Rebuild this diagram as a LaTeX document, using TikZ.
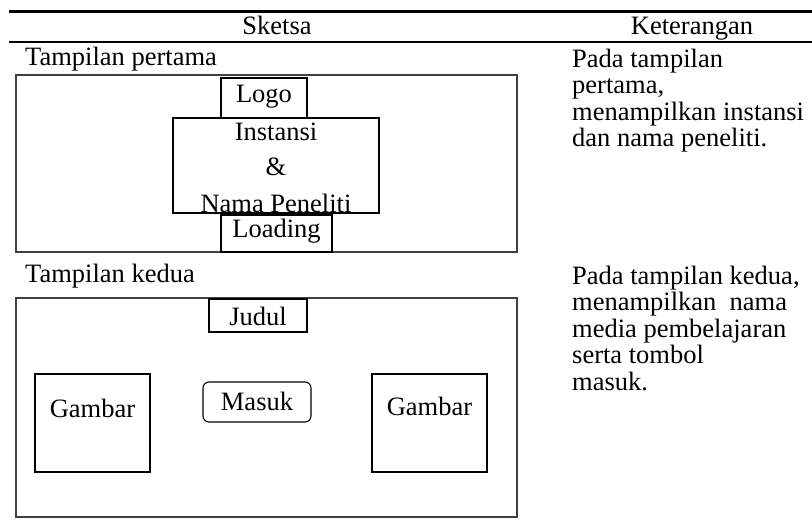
\documentclass[tikz,border=0pt]{standalone}
\usepackage{fontspec}
\setmainfont{Liberation Serif}

\begin{document}
\begin{tikzpicture}
[x=1pt,y=-1pt,
  frameDecorate/.style={shape=rectangle,draw=black!75,line width=1.3pt,inner sep=0pt},
  boxDecorate/.style={shape=rectangle,draw,line width=1.1pt,inner sep=0pt},
  textDecorate/.style={anchor=base,inner sep=0pt,font=\fontsize{26.5}{26.5}\selectfont},
  ruleDecorate/.style={line width=2.4pt}]
\useasboundingbox (0,0) rectangle (812,524);
%% rules of the table
\draw[ruleDecorate] (9,11.5) -- (812,11.5);
\draw[ruleDecorate,line width=2pt] (9,42) -- (812,42);
%% frames and boxes
\foreach \nodename/\x/\y/\w/\h in {
  frameA/266.5/163.5/501/177, frameB/266.5/407.5/501/219}
{
  \node (\nodename) at (\x,\y) [frameDecorate,minimum width=\w,minimum height=\h] {};
}
\foreach \nodename/\x/\y/\w/\h in {
  logo/264/98/86/40, instansi/276/165.5/206/95, loading/276.5/233.5/111/37,
  judul/258/315.5/98/33, gambarL/92.5/423/115/98, gambarR/429.5/423/115/98}
{
  \node (\nodename) at (\x,\y) [boxDecorate,minimum width=\w,minimum height=\h] {};
}
\node (masuk) at (257,402) [boxDecorate,rounded corners=6pt,minimum width=108,minimum height=40] {};
%% texts
\node (sketsaText) at (277,35) [textDecorate] {Sketsa};
\node (ketText) at (692,35) [textDecorate] {Keterangan};
\node (pertamaText) at (25,66) [textDecorate,anchor=base west] {Tampilan pertama};
\node (keduaText) at (25,282) [textDecorate,anchor=base west] {Tampilan kedua};
\node (logoText) at (logo.center) [textDecorate,yshift=-5pt] {Logo};
\node (instansiText) at (276,212) [textDecorate,align=center,font=\fontsize{26.5}{36}\selectfont] {Instansi\\\&\\Nama Peneliti};
\node (loadingText) at (loading.center) [textDecorate,yshift=-3.5pt] {Loading};
\node (judulText) at (judul.center) [textDecorate,yshift=-9.5pt] {Judul};
\node (masukText) at (masuk.center) [textDecorate,yshift=-8pt] {Masuk};
\node (gambarLText) at (gambarL.center) [textDecorate,yshift=6pt] {Gambar};
\node (gambarRText) at (gambarR.center) [textDecorate,yshift=8pt] {Gambar};
\node (ketAText) at (572,147) [textDecorate,anchor=base west,align=left]
  {Pada tampilan\\pertama,\\menampilkan instansi\\dan nama peneliti.};
\node (ketBText) at (572,390) [textDecorate,anchor=base west,align=left]
  {Pada tampilan kedua,\\menampilkan\ \ nama\\media pembelajaran\\serta tombol\\masuk.};
\end{tikzpicture}
\end{document}
